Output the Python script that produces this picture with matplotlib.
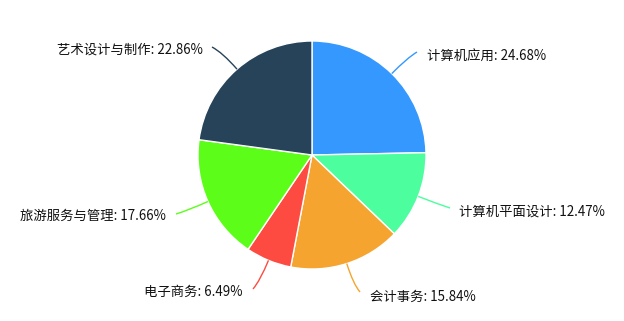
import numpy as np
import matplotlib
matplotlib.use("Agg")
import matplotlib.pyplot as plt
from matplotlib.path import Path
from matplotlib.patches import PathPatch

plt.rcParams['font.family'] = ['Noto Sans CJK SC', 'DejaVu Sans']

categories = ["计算机应用", "计算机平面设计", "会计事务", "电子商务", "旅游服务与管理", "艺术设计与制作"]
values = [24.68, 12.47, 15.84, 6.49, 17.66, 22.86]
colors = ["#3498fe", "#4cfe9e", "#f5a52f", "#fe4b41", "#5cfe19", "#26435a"]

# layout: label line end points (pixel coords) and text side
label_ends = [(417, 52), (450, 208), (360, 292), (253, 289), (176, 214), (212, 47)]
text_pos = [(427, 56), (459, 212), (370, 297), (243, 292), (166, 216), (203, 50)]
sides = ["left", "left", "left", "right", "right", "right"]

W, H = 624, 321
fig = plt.figure(figsize=(W / 100, H / 100), dpi=100)
ax = fig.add_axes([0, 0, 1, 1])

cx, cy, r = 312, 155, 114
ax.pie(values, colors=colors, startangle=-90, counterclock=True,
       center=(cx, cy), radius=r, frame=True,
       wedgeprops=dict(edgecolor='white', linewidth=1))
ax.set_xlim(0, W)
ax.set_ylim(H, 0)
ax.set_aspect('equal')
ax.axis('off')

total = sum(values)
cum = 0
for i, v in enumerate(values):
    mid = cum + v / 2
    cum += v
    ang = np.deg2rad(90 - 360 * mid / total)
    sx = cx + r * np.cos(ang)
    sy = cy - r * np.sin(ang)
    ctrl_x = cx + (r + 22) * np.cos(ang)
    ctrl_y = cy - (r + 22) * np.sin(ang)
    ex, ey = label_ends[i]
    path = Path([(sx, sy), (ctrl_x, ctrl_y), (ex, ey)], [Path.MOVETO, Path.CURVE3, Path.CURVE3])
    ax.add_patch(PathPatch(path, facecolor='none', edgecolor=colors[i], lw=1))
    tx, ty = text_pos[i]
    ax.text(tx, ty, f"{categories[i]}: {v:.2f}%", ha=sides[i], va='center',
            fontsize=9.6, color='#111111')

fig.savefig("out.png", dpi=100)
